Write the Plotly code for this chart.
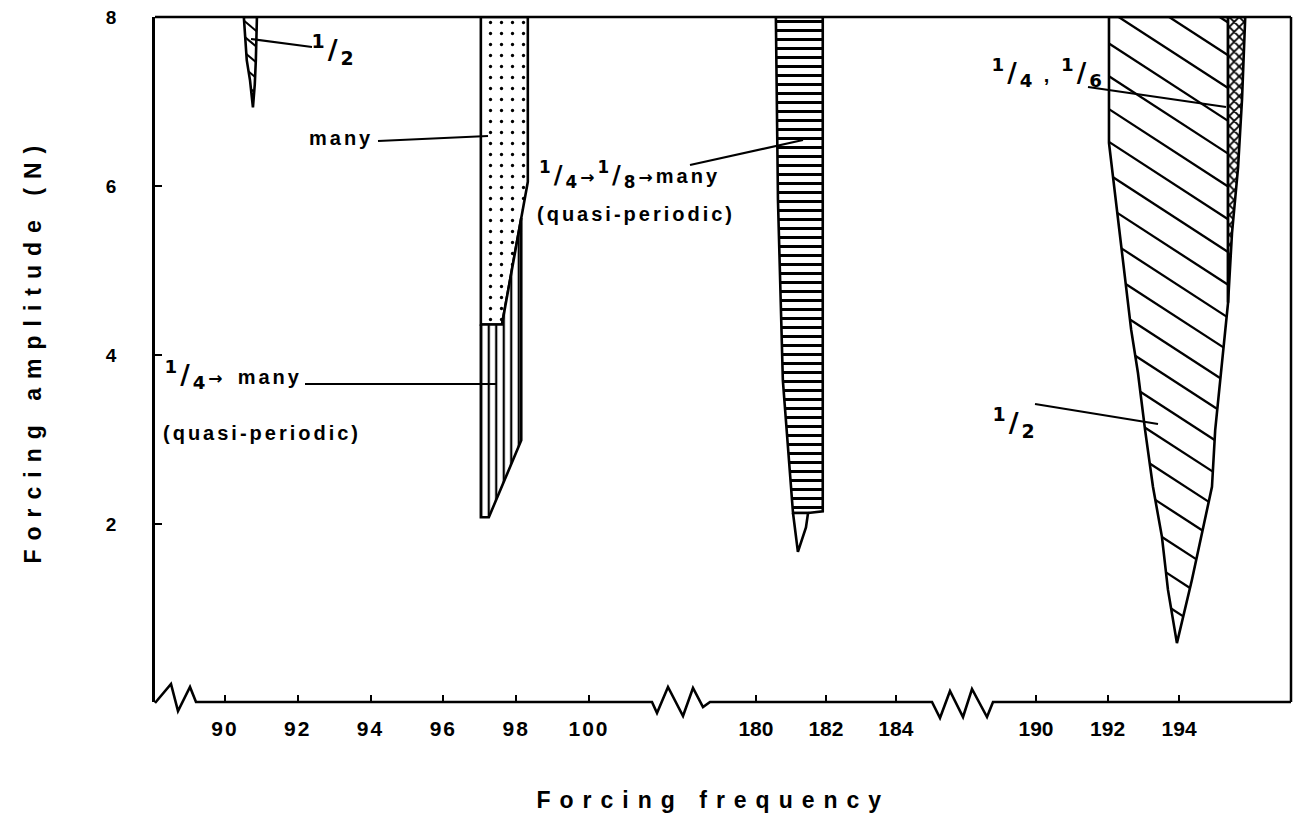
import json
import numpy as np
import plotly.graph_objects as go

# ---------------------------------------------------------------- page geometry
FIG_W, FIG_H = 1297, 822
M_L, M_R, M_T, M_B = 155, 6, 17, 120
PLOT_W = FIG_W - M_L - M_R
PLOT_H = FIG_H - M_T - M_B

FONT = "Liberation Sans"
FRAC_FONT = "DejaVu Sans"
INK = "black"

# ---------------------------------------------------------------- axes
amp_range = [-0.107, 8.0]
amp_ticks = [2, 4, 6, 8]

# broken frequency axis: three pieces laid side by side (pixel edges of each piece)
seg_edges_px = [155, 680, 962, 1291]
seg_ranges = [[88.08, 102.5], [177.83, 185.89], [187.93, 197.13]]
seg_ticks = [[90, 92, 94, 96, 98, 100], [180, 182, 184], [190, 192, 194]]

# ---------------------------------------------------------------- response regions
# period-2 tongue near 90.7
half_low_f = [90.52, 90.88, 90.85, 90.82, 90.77, 90.69, 90.60]
half_low_a = [8.0, 8.0, 7.49, 7.20, 6.93, 7.25, 7.49]

# "many" (dotted) above the 1/4 -> many zone
many_f = [97.03, 98.32, 98.32, 97.61, 97.03]
many_a = [8.0, 8.0, 6.05, 4.36, 4.36]

# 1/4 -> many (quasi-periodic), vertical hatching
qp_low_f = [97.03, 97.61, 98.14, 98.14, 97.25, 97.03]
qp_low_a = [4.36, 4.36, 5.62, 2.99, 2.08, 2.08]

# 1/4 -> 1/8 -> many (quasi-periodic), horizontal hatching
qp_mid_f = [180.57, 181.91, 181.91, 181.49, 181.06, 180.77, 180.63]
qp_mid_a = [8.0, 8.0, 2.15, 2.13, 2.13, 3.70, 5.83]
qp_tip_f = [181.06, 181.49, 181.43, 181.20]
qp_tip_a = [2.13, 2.13, 1.96, 1.67]

# period-2 tongue near 193
half_high_f = [192.04, 195.37, 195.37, 195.29, 195.01, 194.92, 194.67, 194.36,
               193.94, 193.69, 193.52, 193.27, 193.05, 192.85, 192.66, 192.04]
half_high_a = [8.0, 8.0, 4.62, 4.30, 3.11, 2.44, 1.93, 1.34,
               0.59, 1.22, 1.85, 2.44, 3.11, 3.79, 4.30, 6.51]

# 1/4, 1/6 strip (cross-hatched)
sub_high_f = [195.37, 195.85, 195.76, 195.65, 195.48, 195.37]
sub_high_a = [8.0, 8.0, 7.02, 6.22, 5.44, 4.62]


# ---------------------------------------------------------------- helpers
def x_to_px(seg, f):
    x0, x1 = seg_edges_px[seg], seg_edges_px[seg + 1]
    r0, r1 = seg_ranges[seg]
    return x0 + (f - r0) / (r1 - r0) * (x1 - x0)


def px_to_x(seg, px):
    x0, x1 = seg_edges_px[seg], seg_edges_px[seg + 1]
    r0, r1 = seg_ranges[seg]
    return r0 + (px - x0) / (x1 - x0) * (r1 - r0)


def a_to_py(a):
    return M_T + (amp_range[1] - a) / (amp_range[1] - amp_range[0]) * PLOT_H


def py_to_a(py):
    return amp_range[1] - (py - M_T) / PLOT_H * (amp_range[1] - amp_range[0])


def pxx(px):
    return (px - M_L) / PLOT_W


def pyy(py):
    return (M_T + PLOT_H - py) / PLOT_H


def closed(v):
    return list(v) + [v[0]]


def hatch(seg, freqs, amps, angle_deg, spacing, phase=0.0):
    """Parallel hatch lines (screen angle, px spacing) clipped to a polygon."""
    P = np.array([[x_to_px(seg, f), a_to_py(a)] for f, a in zip(freqs, amps)])
    th = np.radians(angle_deg)
    d = np.array([np.cos(th), np.sin(th)])
    n = np.array([-np.sin(th), np.cos(th)])
    s = P @ n
    xs, ys = [], []
    k0 = int(np.ceil((s.min() - phase) / spacing))
    k1 = int(np.floor((s.max() - phase) / spacing))
    m = len(P)
    for k in range(k0, k1 + 1):
        c = phase + k * spacing
        pts = []
        for i in range(m):
            s1, s2 = s[i], s[(i + 1) % m]
            if (s1 - c) * (s2 - c) < 0:
                t = (c - s1) / (s2 - s1)
                pts.append(P[i] + t * (P[(i + 1) % m] - P[i]))
        pts.sort(key=lambda q: q @ d)
        for j in range(0, len(pts) - 1, 2):
            for q in (pts[j], pts[j + 1]):
                xs.append(px_to_x(seg, q[0]))
                ys.append(py_to_a(q[1]))
            xs.append(None)
            ys.append(None)
    return xs, ys


AX = ["x", "x2", "x3"]

fig = go.Figure()


def region(seg, f, a, pattern=None):
    kw = dict(
        x=closed(f), y=closed(a), xaxis=AX[seg], yaxis="y",
        mode="lines", fill="toself", fillcolor="white",
        line=dict(color=INK, width=2.6), hoverinfo="skip",
    )
    if pattern:
        kw["fillpattern"] = dict(fgcolor=INK, bgcolor="white", fillmode="replace", **pattern)
    fig.add_trace(go.Scatter(**kw))


def hatch_trace(seg, f, a, angle, spacing, width=2.2, phase=0.0):
    hx, hy = hatch(seg, f, a, angle, spacing, phase)
    fig.add_trace(go.Scatter(x=hx, y=hy, xaxis=AX[seg], yaxis="y", mode="lines",
                             line=dict(color=INK, width=width), hoverinfo="skip"))


# regions with their shading
region(0, half_low_f, half_low_a)
hatch_trace(0, half_low_f, half_low_a, 40, 12, 2.0, 3)
region(0, many_f, many_a, dict(shape=".", size=11, solidity=0.07))
region(0, qp_low_f, qp_low_a, dict(shape="|", size=7.5, solidity=0.3))
region(1, qp_mid_f, qp_mid_a, dict(shape="-", size=9, solidity=0.33))
region(1, qp_tip_f, qp_tip_a)
region(2, half_high_f, half_high_a)
hatch_trace(2, half_high_f, half_high_a, 33, 27.5, 2.3, 10)
region(2, sub_high_f, sub_high_a, dict(shape="x", size=7, solidity=0.45))

# ---------------------------------------------------------------- frame and broken baseline
shapes = []
shapes.append(dict(type="line", xref="paper", yref="paper", x0=0, x1=1, y0=1, y1=1,
                   line=dict(color=INK, width=2.5)))
shapes.append(dict(type="line", xref="paper", yref="paper", x0=1, x1=1, y0=0, y1=1,
                   line=dict(color=INK, width=2.5)))

baseline_px = [(155, 703), (171, 684), (178, 711), (190, 687), (196, 702),
               (652, 702), (657, 713), (668, 687), (683, 716), (693, 688), (703, 707), (710, 702),
               (932, 702), (940, 718), (950, 691), (963, 717), (972, 689), (987, 717), (993, 702),
               (1291, 702)]
path = "M " + " L ".join(f"{pxx(x):.5f},{pyy(y):.5f}" for x, y in baseline_px)
shapes.append(dict(type="path", xref="paper", yref="paper", path=path,
                   line=dict(color=INK, width=2.6)))

# leader lines from labels to regions
leaders_px = [((251, 39), (312, 47)),
              ((378, 141), (488, 136)),
              ((305, 384), (497, 384)),
              ((690, 165), (803, 140)),
              ((1088, 87), (1226, 107)),
              ((1035, 404), (1158, 424))]
for (xa, ya), (xb, yb) in leaders_px:
    shapes.append(dict(type="line", xref="paper", yref="paper",
                       x0=pxx(xa), y0=pyy(ya), x1=pxx(xb), y1=pyy(yb),
                       line=dict(color=INK, width=2.2)))

# ---------------------------------------------------------------- text
annotations = []


def label(text, px, py, size=20, angle=0, family=FONT):
    annotations.append(dict(text=text, x=pxx(px), y=pyy(py), xref="paper", yref="paper",
                            xanchor="center", yanchor="middle", showarrow=False,
                            textangle=angle,
                            font=dict(family=family, size=size, color=INK, weight="bold")))


def frac(num, den):
    return f"<sup>{num}</sup>/<sub>{den}</sub>"


def word(text, size, family=FONT):
    return f"<span style='font-size:{size}px;font-family:{family}'>{text}</span>"


ARROW = word("→", 17, FRAC_FONT)

# axis titles (first two annotations get the wide tracking)
label("Forcing amplitude (N)", 33, 350, 23, -90)
label("Forcing frequency", 713, 800, 23)

label(frac(1, 2), 334, 50, 27, family=FRAC_FONT)
label("many", 341, 138)
label(frac(1, 4) + ARROW + " " + word("many", 20), 233, 374, 26, family=FRAC_FONT)
label("(quasi-periodic)", 262, 433)
label(frac(1, 4) + ARROW + frac(1, 8) + ARROW + word("many", 20), 630, 175, 24,
      family=FRAC_FONT)
label("(quasi-periodic)", 636, 214)
label(frac(1, 4) + word(" , ", 20) + frac(1, 6), 1048, 72, 26, family=FRAC_FONT)
label(frac(1, 2), 1015, 422, 27, family=FRAC_FONT)

# ---------------------------------------------------------------- layout
tickfont = dict(family=FONT, size=21, color=INK, weight="bold")
layout = dict(
    width=FIG_W, height=FIG_H,
    margin=dict(l=M_L, r=M_R, t=M_T, b=M_B, pad=0, autoexpand=False),
    paper_bgcolor="white", plot_bgcolor="white", showlegend=False,
    shapes=shapes, annotations=annotations,
    yaxis=dict(range=amp_range, tickvals=amp_ticks, ticks="inside", ticklen=7, tickwidth=2,
               tickcolor=INK, showline=True, linewidth=2.6, linecolor=INK, showgrid=False,
               zeroline=False, tickfont=dict(family=FONT, size=19, color=INK, weight="bold"),
               ticklabelstandoff=30, anchor="x", fixedrange=True),
)
for i in range(3):
    name = "xaxis" if i == 0 else f"xaxis{i + 1}"
    layout[name] = dict(
        domain=[pxx(seg_edges_px[i]), pxx(seg_edges_px[i + 1])],
        range=seg_ranges[i], tickvals=seg_ticks[i], ticks="inside", ticklen=7, tickwidth=2,
        tickcolor=INK, showline=False, showgrid=False, zeroline=False, tickfont=tickfont,
        ticklabelstandoff=12, anchor="y", fixedrange=True,
    )
fig.update_layout(**layout)

css = ("body{margin:0;}"
       ".xtick text,.ytick text{letter-spacing:2px;}"
       ".annotation-text{letter-spacing:3px;}"
       "g.annotation[data-index='0'] .annotation-text,"
       "g.annotation[data-index='1'] .annotation-text{letter-spacing:9px;}")
post = ("var s=document.createElement('style');s.textContent=" + json.dumps(css) +
        ";document.head.appendChild(s);")

fig.write_html("out.html", post_script=post, config={"displayModeBar": False})
